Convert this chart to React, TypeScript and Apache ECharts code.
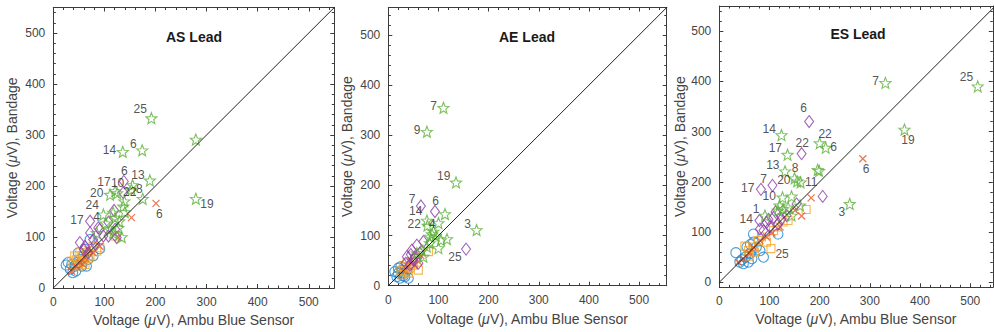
import React, { useEffect, useRef } from "react";
import * as echarts from "echarts";

type P = [number, number];
type Lbl = [number, string, string]; // [point index, text, side]

// ---------- tick values ----------
const MAJOR_TICKS = [0, 100, 200, 300, 400, 500];
const TITLES = ["AS Lead", "AE Lead", "ES Lead"];
const X_NAME = "Voltage ({i|μ}V), Ambu Blue Sensor";
const Y_NAME = "Voltage ({i|μ}V), Bandage";

// ---------- AS Lead ----------
const AS_CIRCLE: P[] = [[29,50],[33,37],[44,33],[56,43],[68,56],[72,95],[91,77],[49,69],[62,76],[36,46],[52,56],[42,43],[65,43],[78,63],[59,63],[46,50],[25,45],[38,30]];
const AS_SQUARE: P[] = [[46,56],[56,63],[39,46],[65,69],[78,82],[49,43],[59,53],[72,63],[91,79],[121,102],[42,63],[36,53],[52,69],[85,72],[62,46],[68,58],[55,50]];
const AS_CROSS: P[] = [[201,166],[153,138],[127,99],[36,33],[62,59],[52,50],[91,82],[78,69],[45,42],[68,75],[58,46]];
const AS_DIAMOND: P[] = [[138,209],[72,131],[137,187],[119,152],[88,118],[108,129],[72,108],[98,102],[124,99],[62,82],[52,89],[82,86],[108,102],[68,69],[91,115],[121,115],[78,95],[60,75]];
const AS_STAR: P[] = [[192,333],[279,291],[136,267],[174,270],[189,211],[155,202],[153,193],[121,190],[111,183],[125,186],[139,170],[175,175],[279,175],[137,160],[98,144],[117,148],[121,138],[140,149],[85,108],[102,127],[117,108],[127,118],[111,115],[129,131],[134,100]];
const AS_CROSS_LBL: Lbl[] = [[0,"6","b"]];
const AS_DIAMOND_LBL: Lbl[] = [[0,"6","t"],[1,"17","l"]];
const AS_STAR_LBL: Lbl[] = [[0,"25","ul"],[2,"14","l"],[3,"6","tl"],[5,"13","tr"],[6,"8","r"],[7,"17","ul"],[8,"20","l"],[9,"10","t"],[10,"22","tr"],[12,"19","br"],[14,"24","ul"],[19,"4","tl"]];

// ---------- AE Lead ----------
const AE_CIRCLE: P[] = [[20,25],[27,31],[33,18],[17,18],[23,15],[30,25],[40,15],[13,28],[37,31],[25,38],[20,35],[30,20]];
const AE_SQUARE: P[] = [[80,68],[60,31],[30,38],[33,28],[43,35],[37,45],[50,41],[27,21],[40,25],[47,48],[55,55],[25,30]];
const AE_CROSS: P[] = [[40,38],[60,48],[65,60],[45,50],[30,30],[52,40]];
const AE_DIAMOND: P[] = [[65,159],[93,148],[155,73],[70,88],[47,71],[57,81],[50,51],[43,41],[60,45],[37,58],[63,65],[53,58],[45,62],[35,45]];
const AE_STAR: P[] = [[110,355],[77,307],[135,206],[113,143],[176,111],[100,125],[77,130],[78,120],[87,103],[83,98],[117,93],[105,91],[100,75],[67,70],[70,58],[57,65],[83,85],[77,78],[90,108],[95,100]];
const AE_CROSS_LBL: Lbl[] = [];
const AE_DIAMOND_LBL: Lbl[] = [[0,"7","tl"],[1,"6","t"],[2,"25","bl"]];
const AE_STAR_LBL: Lbl[] = [[0,"7","l"],[1,"9","l"],[2,"19","tl"],[4,"3","tl"],[6,"14","ul"],[7,"22","l"],[8,"4","t"]];

// ---------- ES Lead ----------
const ES_CIRCLE: P[] = [[33,59],[117,96],[68,96],[41,40],[48,37],[58,40],[65,47],[74,70],[61,57],[55,70],[68,80],[81,63],[88,50],[52,50],[45,45],[62,75]];
const ES_SQUARE: P[] = [[173,145],[137,123],[103,67],[94,80],[51,72],[60,52],[68,70],[78,83],[108,103],[127,120],[58,63],[84,90],[115,110],[70,60]];
const ES_CROSS: P[] = [[286,246],[183,168],[164,132],[151,143],[121,110],[81,83],[68,70],[48,47],[38,40],[94,90],[105,98],[60,58]];
const ES_DIAMOND: P[] = [[179,320],[164,256],[106,193],[83,185],[206,171],[80,123],[154,156],[108,129],[94,119],[117,116],[134,133],[101,110],[88,103],[124,126],[81,106],[112,140],[98,125]];
const ES_STAR: P[] = [[331,397],[515,390],[369,304],[124,293],[136,254],[131,221],[150,207],[155,201],[162,199],[200,277],[212,268],[196,224],[199,222],[126,169],[144,171],[260,156],[91,133],[120,153],[127,146],[117,143],[144,133],[161,153],[137,149]];
const ES_SQUARE_LBL: Lbl[] = [[2,"25","br"]];
const ES_CROSS_LBL: Lbl[] = [[0,"6","b"]];
const ES_DIAMOND_LBL: Lbl[] = [[0,"6","u"],[1,"22","t"],[2,"7","tl"],[3,"17","l"],[5,"14","l"]];
const ES_STAR_LBL: Lbl[] = [[0,"7","l"],[1,"25","ul"],[2,"19","b"],[3,"14","tl"],[4,"17","tl"],[5,"13","tl"],[6,"8","t"],[7,"20","l"],[8,"11","r"],[9,"22","tr"],[10,"6","r"],[13,"10","l"],[15,"3","bl"],[16,"1","tl"]];

// ---------- styles ----------
const FONT = '"Liberation Sans", Arial, Helvetica, sans-serif';
const AXIS_COLOR = "#3a3a3a";
const TEXT_COLOR = "#444";
const C_BLUE = "#1f86cf";
const C_ORANGE = "#f2a52a";
const C_RED = "#e5572a";
const C_PURPLE = "#8a3ea6";
const C_GREEN = "#5cb03a";

const STAR_PATH = (() => {
  const pts: string[] = [];
  for (let k = 0; k < 10; k++) {
    const r = k % 2 === 0 ? 10 : 4.3;
    const a = -Math.PI / 2 + (k * Math.PI) / 5;
    pts.push(`${(10 + r * Math.cos(a)).toFixed(2)},${(10 + r * Math.sin(a)).toFixed(2)}`);
  }
  return "path://M" + pts.join("L") + "Z";
})();
const CROSS_PATH = "path://M0,0L10,10M10,0L0,10";

const PANELS = [
  { left: 53.3, top: 7.5, width: 281, height: 281.2, xmin: 0, xmax: 550, ymin: 0, ymax: 550, yGap: 34, xGap: 25, titleX: 194, titleY: 37,
    circle: AS_CIRCLE, square: AS_SQUARE, cross: AS_CROSS, diamond: AS_DIAMOND, star: AS_STAR,
    lbl: { square: [] as Lbl[], cross: AS_CROSS_LBL, diamond: AS_DIAMOND_LBL, star: AS_STAR_LBL } },
  { left: 388.3, top: 7.5, width: 278.4, height: 278.2, xmin: 0, xmax: 555, ymin: 0, ymax: 555, yGap: 34, xGap: 26, titleX: 527, titleY: 37,
    circle: AE_CIRCLE, square: AE_SQUARE, cross: AE_CROSS, diamond: AE_DIAMOND, star: AE_STAR,
    lbl: { square: [] as Lbl[], cross: AE_CROSS_LBL, diamond: AE_DIAMOND_LBL, star: AE_STAR_LBL } },
  { left: 719.3, top: 6, width: 273.5, height: 281.3, xmin: 0, xmax: 545, ymin: -10, ymax: 550, yGap: 31, xGap: 25, titleX: 858, titleY: 34,
    circle: ES_CIRCLE, square: ES_SQUARE, cross: ES_CROSS, diamond: ES_DIAMOND, star: ES_STAR,
    lbl: { square: ES_SQUARE_LBL, cross: ES_CROSS_LBL, diamond: ES_DIAMOND_LBL, star: ES_STAR_LBL } },
];

function minorTicks(min: number, max: number) {
  const out: number[] = [];
  for (let v = Math.ceil(min / 20) * 20; v <= max; v += 20) if (v % 100 !== 0) out.push(v);
  return out;
}

// label placement relative to the marker centre: [align, dx, dy]
const SIDES: Record<string, [string, number, number]> = {
  l: ["right", -6, -1],
  tl: ["right", -5, -6],
  ul: ["right", -4, -9],
  u: ["center", -5, -13],
  t: ["center", 1, -10],
  tr: ["center", 6, -9],
  r: ["left", 5, 0],
  br: ["left", 5, 6],
  b: ["center", 4, 11],
  bl: ["right", -4, 9],
};

function labelCfg(side: string, cx: number, cy: number): any {
  const s = SIDES[side] || SIDES.l;
  return { position: [cx + s[1], cy + s[2]], align: s[0], verticalAlign: "middle" };
}

function buildData(points: P[], labels: Lbl[], cx: number, cy: number) {
  return points.map((p, i) => {
    const l = labels.find((x) => x[0] === i);
    if (!l) return { value: p };
    return {
      value: p,
      label: { show: true, formatter: l[1], fontSize: 12, color: "#262626", fontFamily: FONT, ...labelCfg(l[2], cx, cy) },
    };
  });
}

const nameStyle = {
  fontSize: 14, color: TEXT_COLOR, fontFamily: FONT,
  rich: { i: { fontStyle: "italic", fontSize: 14, color: TEXT_COLOR, fontFamily: FONT } },
};

function axesFor(dim: "x" | "y", g: number, min: number, max: number, gap: number) {
  const main = dim === "x" ? "bottom" : "left";
  const opp = dim === "x" ? "top" : "right";
  const minors = minorTicks(min, max);
  const base = { type: "value", gridIndex: g, min, max, splitLine: { show: false } };
  return [
    {
      ...base, position: main,
      axisLine: { show: true, onZero: false, lineStyle: { color: AXIS_COLOR, width: 1 } },
      axisTick: { show: true, inside: true, length: 4, customValues: MAJOR_TICKS, lineStyle: { color: AXIS_COLOR } },
      axisLabel: { show: true, customValues: MAJOR_TICKS, margin: 8, fontSize: 12, color: TEXT_COLOR, fontFamily: FONT },
      name: dim === "x" ? X_NAME : Y_NAME, nameLocation: "middle", nameGap: gap, nameTextStyle: nameStyle,
    },
    {
      ...base, position: main,
      axisLine: { show: false, onZero: false },
      axisTick: { show: true, inside: true, length: 2.5, customValues: minors, lineStyle: { color: AXIS_COLOR } },
      axisLabel: { show: false },
    },
    {
      ...base, position: opp,
      axisLine: { show: true, onZero: false, lineStyle: { color: AXIS_COLOR, width: 1 } },
      axisTick: { show: true, inside: true, length: 4, customValues: MAJOR_TICKS, lineStyle: { color: AXIS_COLOR } },
      axisLabel: { show: false },
    },
    {
      ...base, position: opp,
      axisLine: { show: false, onZero: false },
      axisTick: { show: true, inside: true, length: 2.5, customValues: minors, lineStyle: { color: AXIS_COLOR } },
      axisLabel: { show: false },
    },
  ];
}

function buildOption() {
  const grid: any[] = [];
  const xAxis: any[] = [];
  const yAxis: any[] = [];
  const series: any[] = [];
  const graphic: any[] = [];
  PANELS.forEach((p, g) => {
    grid.push({ left: p.left, top: p.top, width: p.width, height: p.height, containLabel: false });
    xAxis.push(...axesFor("x", g, p.xmin, p.xmax, p.xGap));
    yAxis.push(...axesFor("y", g, p.ymin, p.ymax, p.yGap));
    const xi = g * 4, yi = g * 4;
    series.push({
      type: "line", xAxisIndex: xi, yAxisIndex: yi, data: [[0, 0], [700, 700]], symbol: "none",
      lineStyle: { color: "#222", width: 1 }, clip: true, silent: true,
    });
    const sc = (points: P[], labels: Lbl[], symbol: string, size: [number, number], color: string, bw = 1.1) => ({
      type: "scatter", xAxisIndex: xi, yAxisIndex: yi, symbol, symbolSize: size,
      itemStyle: { color: "transparent", borderColor: color, borderWidth: bw },
      labelLayout: { hideOverlap: false },
      data: buildData(points, labels, size[0] / 2, size[1] / 2), clip: true,
    });
    series.push(sc(p.circle, [], "circle", [10, 10], C_BLUE));
    series.push(sc(p.square, p.lbl.square, "rect", [8, 8], C_ORANGE));
    series.push(sc(p.cross, p.lbl.cross, CROSS_PATH, [7, 7], C_RED, 1.3));
    series.push(sc(p.diamond, p.lbl.diamond, "diamond", [9, 12], C_PURPLE));
    series.push(sc(p.star, p.lbl.star, STAR_PATH, [11, 11], C_GREEN));
    graphic.push({
      type: "text", x: p.titleX, y: p.titleY,
      style: { text: TITLES[g], font: `bold 14px ${FONT}`, fill: "#1a1a1a", textAlign: "center", textVerticalAlign: "middle" },
    });
  });
  return { animation: false, backgroundColor: "#fff", grid, xAxis, yAxis, series, graphic };
}

export default function App() {
  const ref = useRef<HTMLDivElement>(null);
  useEffect(() => {
    if (!ref.current) return;
    const chart = echarts.init(ref.current, undefined, { renderer: "svg" });
    chart.setOption(buildOption() as any);
    return () => chart.dispose();
  }, []);
  return <div ref={ref} style={{ position: "fixed", left: 0, top: 0, width: 994, height: 332, background: "#fff" }} />;
}
